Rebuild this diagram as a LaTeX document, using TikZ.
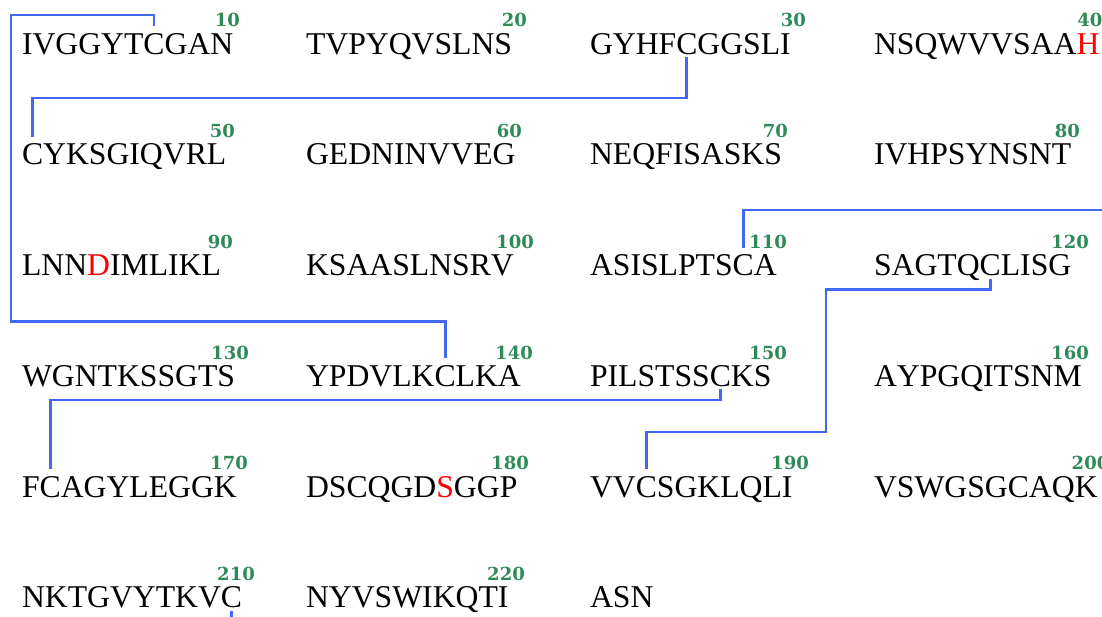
\documentclass[tikz,border=0pt]{standalone}
\usepackage{fontspec}
\setmainfont{Liberation Serif}[Kerning=Off]
\newfontfamily\numfamily{DejaVu Serif}
\definecolor{bondblue}{RGB}{65,105,240}
\definecolor{numgreen}{RGB}{46,139,87}
\definecolor{hotred}{RGB}{255,0,0}
\newcommand\hl[1]{\textcolor{hotred}{#1}}
\begin{document}
\begin{tikzpicture}[x=1pt,y=-1pt,
  seq/.style={font=\fontsize{31.7}{38}\selectfont, inner sep=0pt, outer sep=0pt, anchor=base west},
  num/.style={font=\fontsize{18}{20}\selectfont\numfamily\bfseries, text=numgreen, inner sep=0pt, anchor=base east},
  bond/.style={draw=bondblue, line width=2.8pt}]
\useasboundingbox (0,0) rectangle (1102,617);
% row 1
\node[seq] (s1a) at (22,54.3) {IVGGYT};
\node[seq] (c7) at (s1a.base east) {C};
\node[seq] (s1b) at (c7.base east) {GAN};
\node[seq] (s2) at (306,54.3) {TVPYQVSLNS};
\node[seq] (s3a) at (590,54.3) {GYHF};
\node[seq] (c25) at (s3a.base east) {C};
\node[seq] (s3b) at (c25.base east) {GGSLI};
\node[seq] (s4) at (874,54.3) {NSQWVVSAA\hl{H}};
% row 2
\node[seq] (c41) at (22,165) {C};
\node[seq] (s5b) at (c41.base east) {YKSGIQVRL};
\node[seq] (s6) at (306,165) {GEDNINVVEG};
\node[seq] (s7) at (590,165) {NEQFISASKS};
\node[seq] (s8) at (874,165) {IVHPSYNSNT};
% row 3
\node[seq] (s9) at (22,275.7) {LNN\hl{D}IMLIKL};
\node[seq] (s10) at (306,275.7) {KSAASLNSRV};
\node[seq] (s11a) at (590,275.7) {ASISLPTS};
\node[seq] (c109) at (s11a.base east) {C};
\node[seq] (s11b) at (c109.base east) {A};
\node[seq] (s12a) at (874,275.7) {SAGTQ};
\node[seq] (c116) at (s12a.base east) {C};
\node[seq] (s12b) at (c116.base east) {LISG};
% row 4
\node[seq] (s13) at (22,386.4) {WGNTKSSGTS};
\node[seq] (s14a) at (306,386.4) {YPDVLK};
\node[seq] (c137) at (s14a.base east) {C};
\node[seq] (s14b) at (c137.base east) {LKA};
\node[seq] (s15a) at (590,386.4) {PILSTSS};
\node[seq] (c148) at (s15a.base east) {C};
\node[seq] (s15b) at (c148.base east) {KS};
\node[seq] (s16) at (874,386.4) {AYPGQITSNM};
% row 5
\node[seq] (s17a) at (22,497.1) {F};
\node[seq] (c162) at (s17a.base east) {C};
\node[seq] (s17b) at (c162.base east) {AGYLEGGK};
\node[seq] (s18) at (306,497.1) {DSCQGD\hl{S}GGP};
\node[seq] (s19a) at (590,497.1) {VV};
\node[seq] (c183) at (s19a.base east) {C};
\node[seq] (s19b) at (c183.base east) {SGKLQLI};
\node[seq] (s20) at (874,497.1) {VSWGSGCAQK};
% row 6
\node[seq] (s21a) at (22,607.8) {NKTGVYTKV};
\node[seq] (c210) at (s21a.base east) {C};
\node[seq] (s22) at (306,607.8) {NYVSWIKQTI};
\node[seq] (s23) at (590,607.8) {ASN};
% numbers
\node[num] (n10) at (240,27) {10};
\node[num] (n20) at (527,27) {20};
\node[num] (n30) at (806,27) {30};
\node[num] (n40) at (1102.5,27) {40};
\node[num] (n50) at (235,137.7) {50};
\node[num] (n60) at (522,137.7) {60};
\node[num] (n70) at (788,137.7) {70};
\node[num] (n80) at (1080,137.7) {80};
\node[num] (n90) at (233,248.4) {90};
\node[num] (n100) at (534,248.4) {100};
\node[num] (n110) at (787,248.4) {110};
\node[num] (n120) at (1089,248.4) {120};
\node[num] (n130) at (249,359.1) {130};
\node[num] (n140) at (533,359.1) {140};
\node[num] (n150) at (787,359.1) {150};
\node[num] (n160) at (1089,359.1) {160};
\node[num] (n170) at (248,469.8) {170};
\node[num] (n180) at (529,469.8) {180};
\node[num] (n190) at (809,469.8) {190};
\node[num] (n200) at (1109.5,469.8) {200};
\node[num] (n210) at (255,580.5) {210};
\node[num] (n220) at (525,580.5) {220};
% bond ends
\foreach \c in {7,41,109,137,162,183} \coordinate (t\c) at ([yshift=7pt]c\c.north);
\foreach \c in {25,116,148,210} \coordinate (b\c) at ([yshift=-2.5pt]c\c.south);
\coordinate (lane1) at (11,15);
\coordinate (lane4) at (826,289.5);
\coordinate (e109) at (1106,210);
\coordinate (e210) at (c210.south |- 0,621);
% bonds
\draw[bond] (t7) |- (lane1) |- (t137 |- 0,321.5) -- (t137);
\draw[bond] (b25) |- (t41 |- 0,98) -- (t41);
\draw[bond] (t109) |- (e109);
\draw[bond] (b116) |- (lane4) |- (t183 |- 0,432) -- (t183);
\draw[bond] (b148) |- (t162 |- 0,400) -- (t162);
\draw[bond] (b210) -- (e210);
\end{tikzpicture}
\end{document}
